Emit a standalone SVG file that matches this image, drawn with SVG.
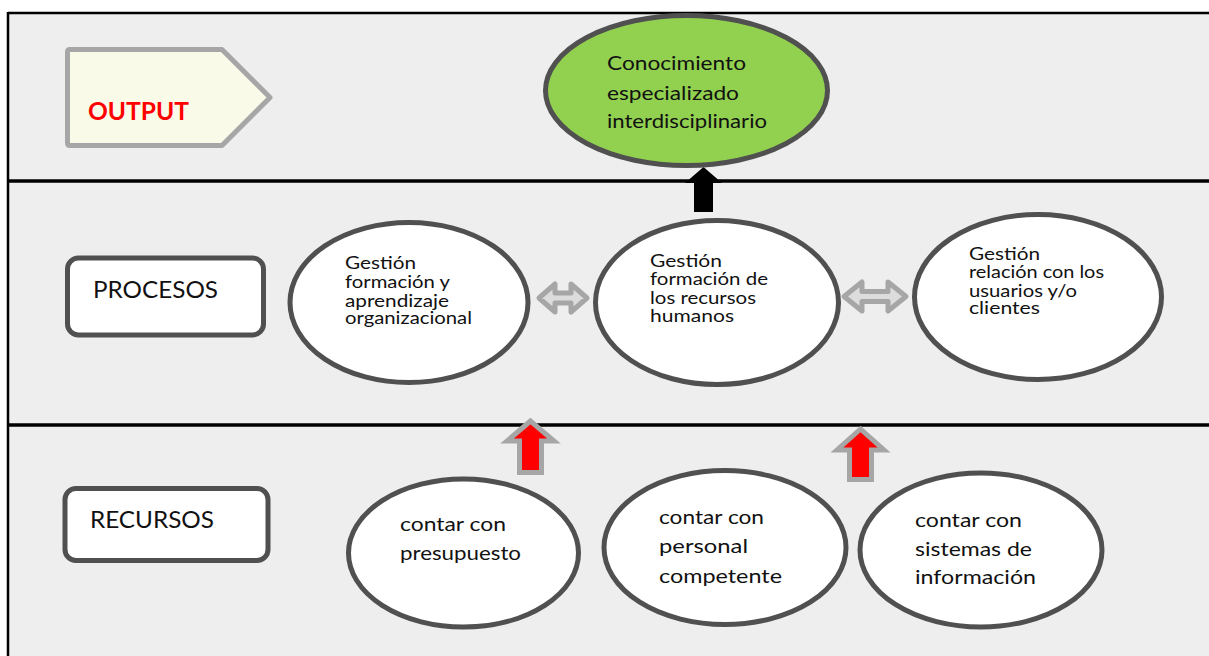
<svg xmlns="http://www.w3.org/2000/svg" width="1209" height="656" viewBox="0 0 1209 656">
  <style>
    .band { fill: #eeeeee; }
    .rule { stroke: #000000; stroke-width: 3.5; fill: none; }
    .oval { fill: #ffffff; stroke: #505050; stroke-width: 5; }
    .label { fill: #ffffff; stroke: #505050; stroke-width: 5; }
    .t { font-family: Lato, "Liberation Sans", sans-serif; fill: #111111; }
    .dbl { fill: #dcdcdc; stroke: #a6a6a6; stroke-width: 5; stroke-linejoin: round; }
    .up { fill: #ff0000; stroke: #a6a6a6; stroke-width: 5; stroke-linejoin: miter; }
  </style>

  <!-- page background and frame -->
  <rect x="0" y="0" width="1209" height="656" fill="#ffffff"/>
  <rect class="band" x="8" y="13" width="1201" height="643"/>
  <g id="frame">
    <line x1="8" y1="13" x2="1209" y2="13" stroke="#000" stroke-width="2.5"/>
    <line x1="8" y1="12" x2="8" y2="656" stroke="#000" stroke-width="2.5"/>
    <line class="rule" x1="8" y1="181" x2="1209" y2="181"/>
    <line class="rule" x1="8" y1="425" x2="1209" y2="425"/>
  </g>

  <!-- row labels -->
  <g id="output-label">
    <path d="M67.5 52 Q67.5 49.5 70 49.5 L222 49.5 L270 97.5 L222 145.5 L70 145.5 Q67.5 145.5 67.5 143 Z" fill="#fafae8" stroke="#a6a6a6" stroke-width="5" stroke-linejoin="round"/>
    <text x="88" y="120" font-family="Lato, 'Liberation Sans', sans-serif" font-weight="bold" font-size="25" fill="#ff0000" textLength="101" lengthAdjust="spacingAndGlyphs">OUTPUT</text>
  </g>
  <g id="procesos-label">
    <rect class="label" x="67.5" y="258" width="196" height="77" rx="11"/>
    <text class="t" x="93" y="298" font-size="23" textLength="125" lengthAdjust="spacingAndGlyphs">PROCESOS</text>
  </g>
  <g id="recursos-label">
    <rect class="label" x="65" y="488.5" width="203" height="72" rx="11"/>
    <text class="t" x="90" y="528" font-size="23" textLength="124" lengthAdjust="spacingAndGlyphs">RECURSOS</text>
  </g>

  <!-- connectors -->
  <g id="connectors">
    <polygon points="703.5,167 722,183 713,183 713,212 694,212 694,183 685,183" fill="#000000"/>
    <polygon class="dbl" points="539,298 555,284 555,293 571,293 571,284 587,298 571,312 571,303 555,303 555,312"/>
    <polygon class="dbl" points="844,296.5 862,282 862,291.5 888,291.5 888,282 906,296.5 888,311 888,301.5 862,301.5 862,311"/>
    <polygon class="up" points="530.5,421 507,441 519.5,441 519.5,472.5 541.5,472.5 541.5,441 554,441"/>
    <polygon class="up" points="860.5,429 837,450 849.5,450 849.5,479.5 871.5,479.5 871.5,450 884,450"/>
  </g>

  <!-- output -->
  <g id="conocimiento">
    <ellipse cx="686.5" cy="90.5" rx="141" ry="75" fill="#92d050" stroke="#505050" stroke-width="5"/>
    <text class="t" x="607" y="70" font-size="20" textLength="139" lengthAdjust="spacingAndGlyphs">Conocimiento</text>
    <text class="t" x="607" y="100" font-size="20" textLength="132" lengthAdjust="spacingAndGlyphs">especializado</text>
    <text class="t" x="607" y="128" font-size="20" textLength="160" lengthAdjust="spacingAndGlyphs">interdisciplinario</text>
  </g>

  <!-- processes -->
  <g id="gestion-aprendizaje">
    <ellipse class="oval" cx="409" cy="302.5" rx="119" ry="80"/>
    <text class="t" x="345" y="269" font-size="17" textLength="71" lengthAdjust="spacingAndGlyphs">Gestión</text>
    <text class="t" x="345" y="288" font-size="17" textLength="105" lengthAdjust="spacingAndGlyphs">formación y</text>
    <text class="t" x="345" y="307" font-size="17" textLength="104" lengthAdjust="spacingAndGlyphs">aprendizaje</text>
    <text class="t" x="345" y="324" font-size="17" textLength="127" lengthAdjust="spacingAndGlyphs">organizacional</text>
  </g>
  <g id="gestion-rrhh">
    <ellipse class="oval" cx="717" cy="302.5" rx="121.5" ry="82"/>
    <text class="t" x="650" y="267" font-size="17" textLength="72" lengthAdjust="spacingAndGlyphs">Gestión</text>
    <text class="t" x="650" y="285" font-size="17" textLength="118" lengthAdjust="spacingAndGlyphs">formación de</text>
    <text class="t" x="650" y="304" font-size="17" textLength="106" lengthAdjust="spacingAndGlyphs">los recursos</text>
    <text class="t" x="650" y="322" font-size="17" textLength="84" lengthAdjust="spacingAndGlyphs">humanos</text>
  </g>
  <g id="gestion-usuarios">
    <ellipse class="oval" cx="1038" cy="297" rx="123.5" ry="82.5"/>
    <text class="t" x="969" y="260" font-size="17" textLength="71" lengthAdjust="spacingAndGlyphs">Gestión</text>
    <text class="t" x="969" y="278" font-size="17" textLength="135" lengthAdjust="spacingAndGlyphs">relación con los</text>
    <text class="t" x="969" y="297" font-size="17" textLength="108" lengthAdjust="spacingAndGlyphs">usuarios y/o</text>
    <text class="t" x="969" y="314" font-size="17" textLength="71" lengthAdjust="spacingAndGlyphs">clientes</text>
  </g>

  <!-- resources -->
  <g id="presupuesto">
    <ellipse class="oval" cx="463.5" cy="553" rx="115" ry="74"/>
    <text class="t" x="400" y="531" font-size="20" textLength="106" lengthAdjust="spacingAndGlyphs">contar con</text>
    <text class="t" x="400" y="560" font-size="20" textLength="121" lengthAdjust="spacingAndGlyphs">presupuesto</text>
  </g>
  <g id="personal">
    <ellipse class="oval" cx="725" cy="547.5" rx="121" ry="77"/>
    <text class="t" x="659" y="524" font-size="20" textLength="105" lengthAdjust="spacingAndGlyphs">contar con</text>
    <text class="t" x="659" y="553" font-size="20" textLength="89" lengthAdjust="spacingAndGlyphs">personal</text>
    <text class="t" x="659" y="583" font-size="20" textLength="123" lengthAdjust="spacingAndGlyphs">competente</text>
  </g>
  <g id="sistemas">
    <ellipse class="oval" cx="981" cy="550" rx="121" ry="77"/>
    <text class="t" x="915" y="527" font-size="20" textLength="107" lengthAdjust="spacingAndGlyphs">contar con</text>
    <text class="t" x="915" y="556" font-size="20" textLength="117" lengthAdjust="spacingAndGlyphs">sistemas de</text>
    <text class="t" x="915" y="584" font-size="20" textLength="121" lengthAdjust="spacingAndGlyphs">información</text>
  </g>
</svg>
